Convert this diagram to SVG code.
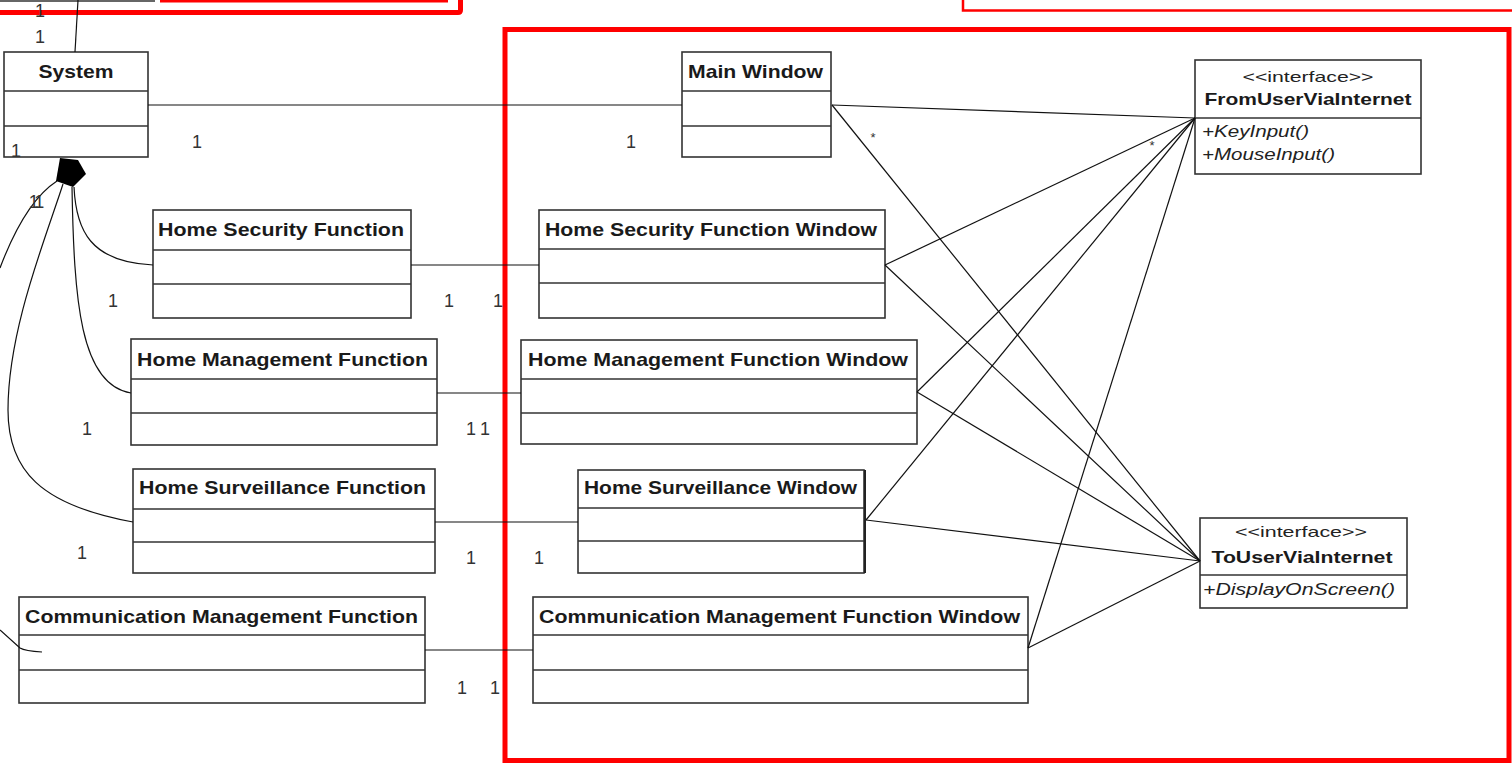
<svg xmlns="http://www.w3.org/2000/svg" width="1512" height="763" viewBox="0 0 1512 763">
  <style>
    .box{fill:#fff;stroke:#333;stroke-width:1.6}
    .sep{stroke:#333;stroke-width:1.4}
    .title{font-family:"Liberation Sans",Arial,sans-serif;font-weight:bold;font-size:19px;fill:#1a1a1a}
    .ititle{font-family:"Liberation Sans",Arial,sans-serif;font-weight:bold;font-size:17px;fill:#1a1a1a}
    .stereo{font-family:"Liberation Sans",Arial,sans-serif;font-size:15px;fill:#222}
    .op{font-family:"Liberation Sans",Arial,sans-serif;font-style:italic;font-size:16px;fill:#222}
    .mult{font-family:"Liberation Sans",Arial,sans-serif;font-size:18px;fill:#333}
    .star{font-family:"Liberation Sans",Arial,sans-serif;font-size:13px;fill:#333}
    .conn{fill:none;stroke:#111;stroke-width:1.2}
    .frame{fill:none;stroke:#ff0000}
  </style>

  <rect width="1512" height="763" fill="#fff"/>

  <!-- red grouping frames -->
  <g id="frames">
    <path class="frame" stroke-width="5" d="M-5,12.5 H458 Q460.5,12.5 460.5,10 V-10"/>
    <path class="frame" stroke-width="3" d="M160,1 H446.5 V-10"/>
    <path class="frame" stroke-width="2.5" d="M963,-5 V10.5 H1515"/>
    <rect class="frame" stroke-width="5" x="505" y="29.5" width="1004" height="731"/>
  </g>

  <!-- edge of the class above System -->
  <line x1="-2" y1="1" x2="155" y2="1" stroke="#666" stroke-width="2"/>

  <!-- classes -->
  <g id="system">
    <rect class="box" x="4" y="52" width="144" height="105"/>
    <line class="sep" x1="4" y1="91" x2="148" y2="91"/>
    <line class="sep" x1="4" y1="126" x2="148" y2="126"/>
    <text class="title" x="76" y="78" text-anchor="middle" textLength="75" lengthAdjust="spacingAndGlyphs">System</text>
  </g>

  <g id="main-window">
    <rect class="box" x="682" y="52" width="149" height="105"/>
    <line class="sep" x1="682" y1="91" x2="831" y2="91"/>
    <line class="sep" x1="682" y1="126" x2="831" y2="126"/>
    <text class="title" x="688" y="78" textLength="135" lengthAdjust="spacingAndGlyphs">Main Window</text>
  </g>

  <g id="home-security-function">
    <rect class="box" x="153" y="210" width="258" height="108"/>
    <line class="sep" x1="153" y1="250" x2="411" y2="250"/>
    <line class="sep" x1="153" y1="284" x2="411" y2="284"/>
    <text class="title" x="158" y="236" textLength="246" lengthAdjust="spacingAndGlyphs">Home Security Function</text>
  </g>

  <g id="home-security-function-window">
    <rect class="box" x="539" y="210" width="346" height="108"/>
    <line class="sep" x1="539" y1="249" x2="885" y2="249"/>
    <line class="sep" x1="539" y1="283" x2="885" y2="283"/>
    <text class="title" x="545" y="236" textLength="332" lengthAdjust="spacingAndGlyphs">Home Security Function Window</text>
  </g>

  <g id="home-management-function">
    <rect class="box" x="131" y="339" width="306" height="106"/>
    <line class="sep" x1="131" y1="379" x2="437" y2="379"/>
    <line class="sep" x1="131" y1="413" x2="437" y2="413"/>
    <text class="title" x="137" y="366" textLength="291" lengthAdjust="spacingAndGlyphs">Home Management Function</text>
  </g>

  <g id="home-management-function-window">
    <rect class="box" x="521" y="340" width="396" height="104"/>
    <line class="sep" x1="521" y1="379" x2="917" y2="379"/>
    <line class="sep" x1="521" y1="413" x2="917" y2="413"/>
    <text class="title" x="528" y="366" textLength="380" lengthAdjust="spacingAndGlyphs">Home Management Function Window</text>
  </g>

  <g id="home-surveillance-function">
    <rect class="box" x="133" y="469" width="302" height="104"/>
    <line class="sep" x1="133" y1="509" x2="435" y2="509"/>
    <line class="sep" x1="133" y1="542" x2="435" y2="542"/>
    <text class="title" x="139" y="494" textLength="287" lengthAdjust="spacingAndGlyphs">Home Surveillance Function</text>
  </g>

  <g id="home-surveillance-window">
    <rect class="box" x="578" y="470" width="286" height="103"/>
    <line class="sep" x1="578" y1="508" x2="864" y2="508"/>
    <line class="sep" x1="578" y1="541" x2="864" y2="541"/>
    <line x1="865" y1="470" x2="865" y2="573" stroke="#222" stroke-width="2"/>
    <text class="title" x="584" y="494" textLength="273" lengthAdjust="spacingAndGlyphs">Home Surveillance Window</text>
  </g>

  <g id="communication-management-function">
    <rect class="box" x="19" y="597" width="406" height="106"/>
    <line class="sep" x1="19" y1="635" x2="425" y2="635"/>
    <line class="sep" x1="19" y1="670" x2="425" y2="670"/>
    <text class="title" x="25" y="623" textLength="393" lengthAdjust="spacingAndGlyphs">Communication Management Function</text>
  </g>

  <g id="communication-management-function-window">
    <rect class="box" x="533" y="597" width="495" height="106"/>
    <line class="sep" x1="533" y1="635" x2="1028" y2="635"/>
    <line class="sep" x1="533" y1="670" x2="1028" y2="670"/>
    <text class="title" x="539" y="623" textLength="481" lengthAdjust="spacingAndGlyphs">Communication Management Function Window</text>
  </g>

  <!-- interfaces -->
  <g id="from-user-via-internet">
    <rect class="box" x="1195" y="60" width="226" height="114"/>
    <line class="sep" x1="1195" y1="118" x2="1421" y2="118"/>
    <text class="stereo" x="1308" y="82" text-anchor="middle" textLength="131" lengthAdjust="spacingAndGlyphs">&lt;&lt;interface&gt;&gt;</text>
    <text class="ititle" x="1308" y="105" text-anchor="middle" textLength="207" lengthAdjust="spacingAndGlyphs">FromUserViaInternet</text>
    <text class="op" x="1202" y="137" textLength="107" lengthAdjust="spacingAndGlyphs">+KeyInput()</text>
    <text class="op" x="1202" y="160" textLength="133" lengthAdjust="spacingAndGlyphs">+MouseInput()</text>
  </g>

  <g id="to-user-via-internet">
    <rect class="box" x="1200" y="518" width="207" height="90"/>
    <line class="sep" x1="1200" y1="575" x2="1407" y2="575"/>
    <text class="stereo" x="1301" y="537" text-anchor="middle" textLength="132" lengthAdjust="spacingAndGlyphs">&lt;&lt;interface&gt;&gt;</text>
    <text class="ititle" x="1302" y="563" text-anchor="middle" textLength="181" lengthAdjust="spacingAndGlyphs">ToUserViaInternet</text>
    <text class="op" x="1203" y="595" textLength="192" lengthAdjust="spacingAndGlyphs">+DisplayOnScreen()</text>
  </g>

  <!-- connectors, drawn over the class boxes -->
  <g id="connectors">
    <line class="conn" x1="78" y1="0" x2="75" y2="52"/>
    <line class="conn" x1="148" y1="105" x2="682" y2="105"/>
    <line class="conn" x1="411" y1="265" x2="539" y2="265"/>
    <line class="conn" x1="437" y1="393" x2="521" y2="393"/>
    <line class="conn" x1="435" y1="522" x2="578" y2="522"/>
    <line class="conn" x1="425" y1="650" x2="533" y2="650"/>

    <!-- composition from System -->
    <path class="conn" d="M57,181 C40,192 20,215 0,268"/>
    <path class="conn" d="M63,184 C45,240 8,330 8,410 C8,470 40,505 133,522"/>
    <path class="conn" d="M74,187 C76,230 90,262 153,265"/>
    <path class="conn" d="M72,187 C74,300 80,385 131,393"/>
    <path class="conn" d="M0,630 L20,648 Q25,651 42,652"/>
    <polygon points="60,158 78,160 86,174 73,187 56,181" fill="#000"/>

    <!-- windows to FromUserViaInternet -->
    <line class="conn" x1="832" y1="105" x2="1195" y2="118"/>
    <line class="conn" x1="885" y1="265" x2="1195" y2="118"/>
    <line class="conn" x1="917" y1="392" x2="1195" y2="118"/>
    <line class="conn" x1="866" y1="520" x2="1195" y2="118"/>
    <line class="conn" x1="1028" y1="648" x2="1195" y2="118"/>

    <!-- windows to ToUserViaInternet -->
    <line class="conn" x1="832" y1="105" x2="1200" y2="561"/>
    <line class="conn" x1="885" y1="265" x2="1200" y2="561"/>
    <line class="conn" x1="917" y1="392" x2="1200" y2="561"/>
    <line class="conn" x1="866" y1="520" x2="1200" y2="561"/>
    <line class="conn" x1="1028" y1="648" x2="1200" y2="561"/>
  </g>

  <!-- multiplicities -->
  <g id="multiplicities">
    <text class="mult" x="40" y="17" text-anchor="middle">1</text>
    <text class="mult" x="40" y="43" text-anchor="middle">1</text>
    <text class="mult" x="16" y="157" text-anchor="middle">1</text>
    <text class="mult" x="197" y="148" text-anchor="middle">1</text>
    <text class="mult" x="631" y="148" text-anchor="middle">1</text>
    <text class="mult" x="35" y="208" text-anchor="middle" font-size="16" letter-spacing="-3">11</text>
    <text class="mult" x="113" y="307" text-anchor="middle">1</text>
    <text class="mult" x="449" y="307" text-anchor="middle">1</text>
    <text class="mult" x="498" y="307" text-anchor="middle">1</text>
    <text class="mult" x="87" y="435" text-anchor="middle">1</text>
    <text class="mult" x="471" y="435" text-anchor="middle">1</text>
    <text class="mult" x="485" y="435" text-anchor="middle">1</text>
    <text class="mult" x="82" y="559" text-anchor="middle">1</text>
    <text class="mult" x="471" y="564" text-anchor="middle">1</text>
    <text class="mult" x="539" y="564" text-anchor="middle">1</text>
    <text class="mult" x="462" y="694" text-anchor="middle">1</text>
    <text class="mult" x="495" y="694" text-anchor="middle">1</text>
    <text class="star" x="873" y="142" text-anchor="middle">*</text>
    <text class="star" x="1152" y="150" text-anchor="middle">*</text>
  </g>
</svg>
